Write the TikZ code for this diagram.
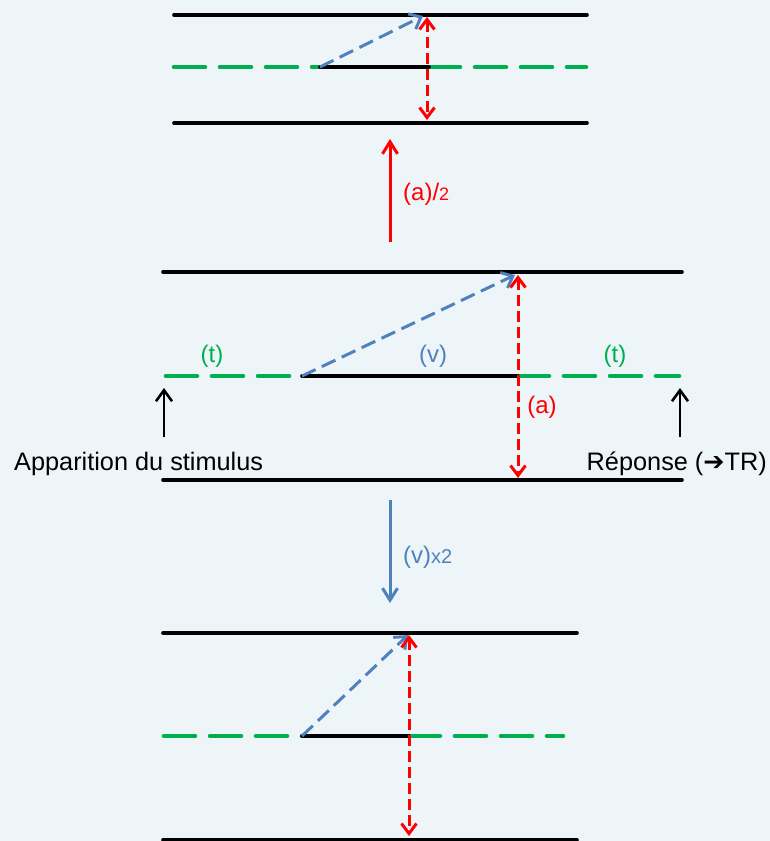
\documentclass[tikz,border=0pt]{standalone}
\usepackage{fontspec}
\setmainfont{Liberation Sans}
\newfontfamily\dejavu{DejaVu Sans}
\usetikzlibrary{arrows.meta}
\definecolor{bgc}{RGB}{238,245,249}
\definecolor{grn}{RGB}{0,176,80}
\definecolor{blu}{RGB}{79,129,189}
\definecolor{rd}{RGB}{255,0,0}
\tikzset{
  blk/.style={black, line width=3.6pt, line cap=round},
  grnline/.style={grn, line width=4.6pt, dash pattern=on 31pt off 15pt, line cap=round},
  bluarr/.style={blu, line width=3pt, dash pattern=on 15pt off 7pt, -{Straight Barb[length=10pt,width=17pt,line width=3pt]}},
  redarr/.style={rd, line width=3pt, dash pattern=on 11pt off 5pt, {Straight Barb[length=10pt,width=15pt,line width=3pt]}-{Straight Barb[length=10pt,width=15pt,line width=3pt]}},
  lab/.style={inner sep=0pt, font=\fontsize{24}{24}\selectfont},
  big/.style={inner sep=0pt, font=\fontsize{25.3}{25.3}\selectfont},
  blkarr/.style={black, line width=2.6pt, -{Straight Barb[length=11pt,width=16pt,line width=2.6pt]}}
}
\begin{document}
\begin{tikzpicture}[x=1pt,y=-1pt]
\useasboundingbox (0,0) rectangle (770,841);
\fill[bgc] (0,0) rectangle (770,841);

% ---------- top diagram ----------
\coordinate (A1) at (174,15);  \coordinate (A2) at (587,15);
\coordinate (B1) at (174,123); \coordinate (B2) at (587,123);
\coordinate (G1) at (174,67);  \coordinate (S1) at (320,67);
\coordinate (E1) at (429,67);  \coordinate (G2) at (586,67);
\coordinate (V1) at (423,16);
\coordinate (R1t) at (427,17); \coordinate (R1b) at (427,120);
\draw[blk] (A1) -- (A2);
\draw[blk] (B1) -- (B2);
\draw[grnline] (G1) -- (S1);
\draw[grnline] (E1) -- (G2);
\draw[blk] (S1) -- (E1);
\draw[bluarr] (S1) -- (V1);
\draw[redarr] (R1t) -- (R1b);

% ---------- red arrow (a)/2 ----------
\coordinate (Ra) at (390,242); \coordinate (Rb) at (390,139);
\draw[rd, line width=3pt, -{Straight Barb[length=12pt,width=15pt,line width=3pt]}] (Ra) -- (Rb);
\node[lab, text=rd, anchor=base west] (la2) at (403,200) {(a)/{\fontsize{18}{18}\selectfont 2}};

% ---------- middle diagram ----------
\coordinate (C1) at (163,272); \coordinate (C2) at (682,272);
\coordinate (D1) at (163,480); \coordinate (D2) at (682,480);
\coordinate (H1) at (166,376); \coordinate (S2) at (302,376);
\coordinate (E2) at (518,376); \coordinate (H2) at (679,376);
\coordinate (V2) at (515,275);
\coordinate (R2t) at (518,275); \coordinate (R2b) at (518,478);
\draw[blk] (C1) -- (C2);
\draw[blk] (D1) -- (D2);
\draw[grnline] (H1) -- (S2);
\draw[grnline] (E2) -- (H2);
\draw[blk] (S2) -- (E2);
\draw[bluarr] (S2) -- (V2);
\draw[redarr] (R2t) -- (R2b);
\node[lab, text=grn] (lt1) at (212,356) {(t)};
\node[lab, text=blu] (lv) at (433,356) {(v)};
\node[lab, text=grn] (lt2) at (615,356) {(t)};
\node[lab, text=rd] (la) at (542,407) {(a)};

\coordinate (K1b) at (164,437); \coordinate (K1t) at (164,388);
\coordinate (K2b) at (680,437); \coordinate (K2t) at (680,388);
\draw[blkarr] (K1b) -- (K1t);
\draw[blkarr] (K2b) -- (K2t);
\node[big, anchor=base west] (app) at (14,470) {Apparition du stimulus};
\node[big, anchor=base east] (rep) at (767,470) {Réponse ({\dejavu\bfseries ➔}TR)};

% ---------- blue arrow (v)x2 ----------
\coordinate (Ba) at (390,500); \coordinate (Bb) at (390,603);
\draw[blu, line width=3pt, -{Straight Barb[length=12pt,width=15pt,line width=3pt]}] (Ba) -- (Bb);
\node[lab, text=blu, anchor=base west] (lv2) at (403,563) {(v){\fontsize{20}{20}\selectfont x2}};

% ---------- bottom diagram ----------
\coordinate (F1) at (163,633); \coordinate (F2) at (577,633);
\coordinate (J1) at (163,840); \coordinate (J2) at (577,840);
\coordinate (L1) at (164,736); \coordinate (S3) at (302,736);
\coordinate (E3) at (409,736); \coordinate (L2) at (563,736);
\coordinate (V3) at (408,635);
\coordinate (R3t) at (409,635); \coordinate (R3b) at (409,836);
\draw[blk] (F1) -- (F2);
\draw[blk] (J1) -- (J2);
\draw[grnline] (L1) -- (S3);
\draw[grnline] (E3) -- (L2);
\draw[blk] (S3) -- (E3);
\draw[bluarr] (S3) -- (V3);
\draw[redarr] (R3t) -- (R3b);
\end{tikzpicture}
\end{document}
